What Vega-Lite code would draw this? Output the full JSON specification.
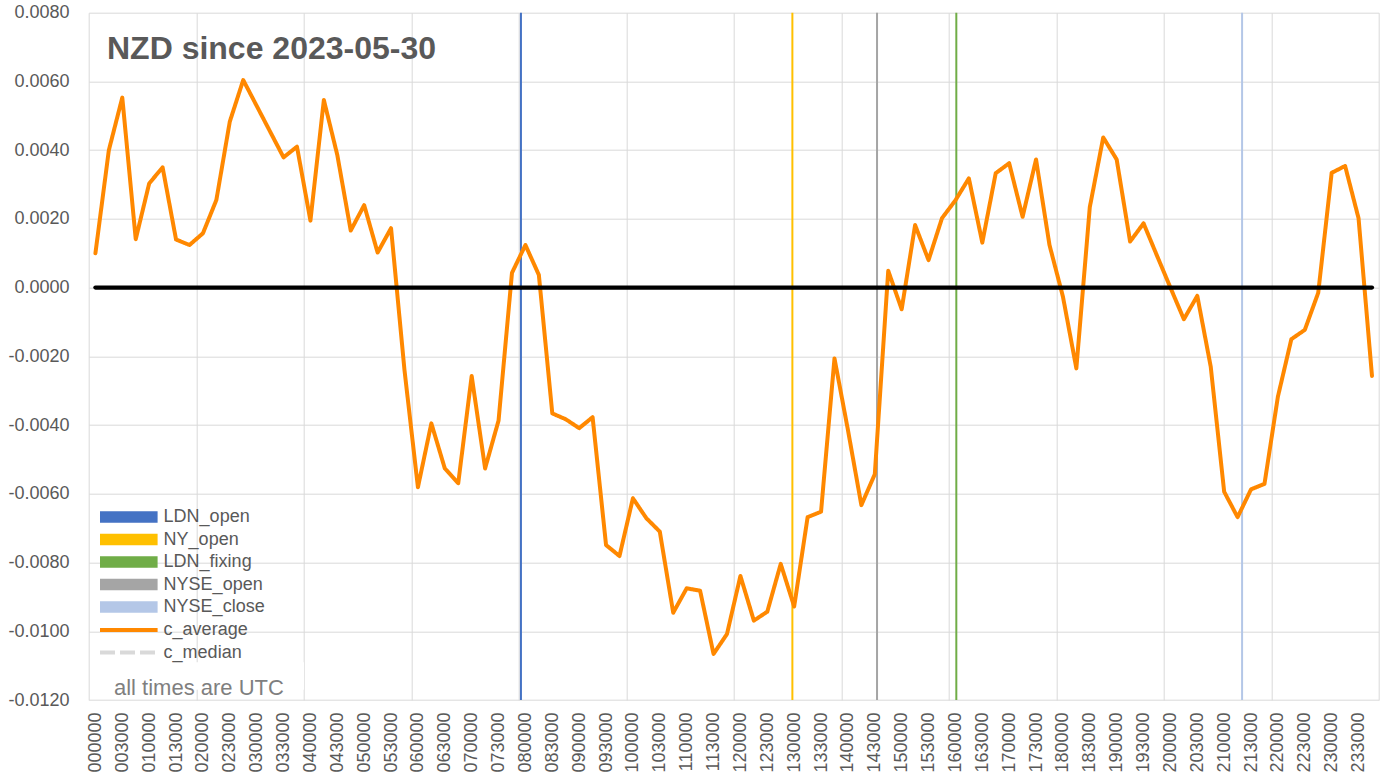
{
  "$schema": "https://vega.github.io/schema/vega-lite/v6.json",
  "width": 1290,
  "height": 687.3,
  "autosize": {"type": "none"},
  "padding": {"left": 88.7, "top": 12.7, "right": 21.3, "bottom": 81},
  "background": "white",
  "config": {"view": {"stroke": null}, "font": "Liberation Sans"},
  "datasets": {
    "avg": [
      {"minute": 0, "c_average": 0.0010},
      {"minute": 15, "c_average": 0.0040},
      {"minute": 30, "c_average": 0.00553},
      {"minute": 45, "c_average": 0.00141},
      {"minute": 60, "c_average": 0.00303},
      {"minute": 75, "c_average": 0.0035},
      {"minute": 90, "c_average": 0.0014},
      {"minute": 105, "c_average": 0.00124},
      {"minute": 120, "c_average": 0.00158},
      {"minute": 135, "c_average": 0.00255},
      {"minute": 150, "c_average": 0.00483},
      {"minute": 165, "c_average": 0.00604},
      {"minute": 180, "c_average": 0.00529},
      {"minute": 195, "c_average": 0.00454},
      {"minute": 210, "c_average": 0.00379},
      {"minute": 225, "c_average": 0.0041},
      {"minute": 240, "c_average": 0.00195},
      {"minute": 255, "c_average": 0.00546},
      {"minute": 270, "c_average": 0.00386},
      {"minute": 285, "c_average": 0.00166},
      {"minute": 300, "c_average": 0.0024},
      {"minute": 315, "c_average": 0.00102},
      {"minute": 330, "c_average": 0.00173},
      {"minute": 345, "c_average": -0.0024},
      {"minute": 360, "c_average": -0.00581},
      {"minute": 375, "c_average": -0.00395},
      {"minute": 390, "c_average": -0.00526},
      {"minute": 405, "c_average": -0.00569},
      {"minute": 420, "c_average": -0.00257},
      {"minute": 435, "c_average": -0.00526},
      {"minute": 450, "c_average": -0.00387},
      {"minute": 465, "c_average": 0.00043},
      {"minute": 480, "c_average": 0.00124},
      {"minute": 495, "c_average": 0.00037},
      {"minute": 510, "c_average": -0.00366},
      {"minute": 525, "c_average": -0.00383},
      {"minute": 540, "c_average": -0.00409},
      {"minute": 555, "c_average": -0.00377},
      {"minute": 570, "c_average": -0.00749},
      {"minute": 585, "c_average": -0.00781},
      {"minute": 600, "c_average": -0.00613},
      {"minute": 615, "c_average": -0.00671},
      {"minute": 630, "c_average": -0.0071},
      {"minute": 645, "c_average": -0.00946},
      {"minute": 660, "c_average": -0.00875},
      {"minute": 675, "c_average": -0.00882},
      {"minute": 690, "c_average": -0.01066},
      {"minute": 705, "c_average": -0.01008},
      {"minute": 720, "c_average": -0.00839},
      {"minute": 735, "c_average": -0.00969},
      {"minute": 750, "c_average": -0.00943},
      {"minute": 765, "c_average": -0.00804},
      {"minute": 780, "c_average": -0.00928},
      {"minute": 795, "c_average": -0.00668},
      {"minute": 810, "c_average": -0.00652},
      {"minute": 825, "c_average": -0.00206},
      {"minute": 840, "c_average": -0.00414},
      {"minute": 855, "c_average": -0.00633},
      {"minute": 870, "c_average": -0.00543},
      {"minute": 885, "c_average": 0.00049},
      {"minute": 900, "c_average": -0.00063},
      {"minute": 915, "c_average": 0.00182},
      {"minute": 930, "c_average": 0.0008},
      {"minute": 945, "c_average": 0.00202},
      {"minute": 960, "c_average": 0.00254},
      {"minute": 975, "c_average": 0.00318},
      {"minute": 990, "c_average": 0.00131},
      {"minute": 1005, "c_average": 0.00333},
      {"minute": 1020, "c_average": 0.00362},
      {"minute": 1035, "c_average": 0.00206},
      {"minute": 1050, "c_average": 0.00373},
      {"minute": 1065, "c_average": 0.00124},
      {"minute": 1080, "c_average": -0.00026},
      {"minute": 1095, "c_average": -0.00235},
      {"minute": 1110, "c_average": 0.00234},
      {"minute": 1125, "c_average": 0.00437},
      {"minute": 1140, "c_average": 0.00373},
      {"minute": 1155, "c_average": 0.00134},
      {"minute": 1170, "c_average": 0.00187},
      {"minute": 1185, "c_average": 0.00093},
      {"minute": 1200, "c_average": 0.0},
      {"minute": 1215, "c_average": -0.00092},
      {"minute": 1230, "c_average": -0.00024},
      {"minute": 1245, "c_average": -0.0023},
      {"minute": 1260, "c_average": -0.00594},
      {"minute": 1275, "c_average": -0.00668},
      {"minute": 1290, "c_average": -0.00587},
      {"minute": 1305, "c_average": -0.00571},
      {"minute": 1320, "c_average": -0.00317},
      {"minute": 1335, "c_average": -0.0015},
      {"minute": 1350, "c_average": -0.00123},
      {"minute": 1365, "c_average": -0.00015},
      {"minute": 1380, "c_average": 0.00334},
      {"minute": 1395, "c_average": 0.00354},
      {"minute": 1410, "c_average": 0.00202},
      {"minute": 1425, "c_average": -0.00257}
    ],
    "events": [
      {"name": "LDN_open", "minute": 475},
      {"name": "NY_open", "minute": 778},
      {"name": "LDN_fixing", "minute": 961},
      {"name": "NYSE_open", "minute": 872.5},
      {"name": "NYSE_close", "minute": 1280}
    ],
    "note": [{"text": "all times are UTC"}],
    "heading": [{"text": "NZD since 2023-05-30"}]
  },
  "layer": [
    {
      "data": {"name": "events"},
      "mark": {"type": "rule", "strokeWidth": 2},
      "encoding": {
        "x": {"field": "minute", "type": "quantitative",
          "scale": {"domain": [-7.5, 1432.5], "nice": false, "zero": false},
          "axis": {"orient": "top",
            "values": [-7.5, 112.5, 232.5, 352.5, 472.5, 592.5, 712.5, 832.5, 952.5, 1072.5, 1192.5, 1312.5, 1432.5],
            "labels": false, "grid": true, "gridColor": "#D9D9D9", "gridWidth": 1,
            "ticks": false, "domain": false, "title": null}},
        "stroke": {"field": "name", "type": "nominal",
          "scale": {"domain": ["LDN_open", "NY_open", "LDN_fixing", "NYSE_open", "NYSE_close"],
                    "range": ["#4472C4", "#FFC000", "#70AD47", "#A5A5A5", "#B4C7E7"]},
          "legend": {
            "orient": "none", "legendX": 31.1, "legendY": 495.3, "title": null, "padding": 0,
            "symbolType": "M-9.6,-1.6H9.6M-9.6,-1.07H9.6M-9.6,-0.53H9.6M-9.6,0H9.6M-9.6,0.53H9.6M-9.6,1.07H9.6M-9.6,1.6H9.6",
            "symbolSize": 36, "symbolStrokeWidth": 2,
            "labelFontSize": 18, "labelColor": "#595959", "labelFont": "Liberation Sans", "labelOffset": 25.8,
            "rowPadding": 4.5
          }}
      }
    },
    {
      "data": {"name": "avg"},
      "mark": {"type": "line", "strokeWidth": 4, "strokeJoin": "round", "strokeCap": "round"},
      "encoding": {
        "x": {"field": "minute", "type": "quantitative",
          "axis": {"orient": "bottom",
            "values": [0,30,60,90,120,150,180,210,240,270,300,330,360,390,420,450,480,510,540,570,600,630,660,690,720,750,780,810,840,870,900,930,960,990,1020,1050,1080,1110,1140,1170,1200,1230,1260,1290,1320,1350,1380,1410],
            "labelExpr": "(floor(datum.value/60) < 10 ? '0' : '') + floor(datum.value/60) + (datum.value % 60 < 10 ? '0' : '') + (datum.value % 60) + '00'",
            "labelAngle": -90, "labelFontSize": 18, "labelColor": "#595959", "labelFont": "Liberation Sans", "labelPadding": 12,
            "labelOverlap": false, "labelBound": false, "labelFlush": false,
            "grid": false, "ticks": false, "domain": false, "title": null}},
        "y": {"field": "c_average", "type": "quantitative",
          "scale": {"domain": [-0.012, 0.008], "nice": false, "zero": false},
          "axis": {"values": [-0.012, -0.01, -0.008, -0.006, -0.004, -0.002, 0, 0.002, 0.004, 0.006, 0.008],
            "labelExpr": "replace(format(datum.value, '.4f'), '\u2212', '-')",
            "labelFontSize": 18, "labelColor": "#595959", "labelFont": "Liberation Sans", "labelPadding": 19.7,
            "grid": true, "gridColor": "#D9D9D9", "gridWidth": 1, "ticks": false, "domain": false, "title": null}},
        "color": {"datum": "c_average", "type": "nominal",
          "scale": {"domain": ["c_average", "c_median"], "range": ["#FF8800", "#D9D9D9"]},
          "legend": {
            "orient": "none", "legendX": 31.1, "legendY": 608.3, "title": null, "padding": 0,
            "symbolType": "M-9.6,0H9.6", "symbolSize": 36, "symbolStrokeWidth": 4,
            "labelFontSize": 18, "labelColor": "#595959", "labelFont": "Liberation Sans", "labelOffset": 25.8,
            "rowPadding": 4.5
          }},
        "strokeDash": {"datum": "c_average", "type": "nominal",
          "scale": {"domain": ["c_average", "c_median"], "range": [[1, 0], [15, 5]]},
          "legend": {
            "orient": "none", "legendX": 31.1, "legendY": 608.3, "title": null, "padding": 0,
            "symbolType": "M-9.6,0H9.6", "symbolSize": 36, "symbolStrokeWidth": 4,
            "labelFontSize": 18, "labelColor": "#595959", "labelFont": "Liberation Sans", "labelOffset": 25.8,
            "rowPadding": 4.5
          }}
      }
    },
    {
      "data": {"values": [{}]},
      "mark": {"type": "rule", "color": "black", "strokeWidth": 4.3, "strokeCap": "round"},
      "encoding": {
        "x": {"datum": 0, "type": "quantitative", "axis": null},
        "x2": {"datum": 1425},
        "y": {"datum": 0, "type": "quantitative"}
      }
    },
    {
      "data": {"name": "note"},
      "mark": {"type": "rect", "color": "white"},
      "encoding": {
        "x": {"datum": -6, "type": "quantitative", "axis": null},
        "x2": {"datum": 232.8},
        "y": {"datum": -0.0109, "type": "quantitative"},
        "y2": {"datum": -0.0117}
      }
    },
    {
      "data": {"name": "note"},
      "mark": {"type": "text", "align": "left", "baseline": "alphabetic", "font": "Liberation Sans", "fontSize": 22, "color": "#7F7F7F"},
      "encoding": {
        "x": {"datum": 20.7, "type": "quantitative", "axis": null},
        "y": {"datum": -0.01185, "type": "quantitative"},
        "text": {"field": "text"}
      }
    },
    {
      "data": {"name": "heading"},
      "mark": {"type": "text", "align": "left", "baseline": "alphabetic", "font": "Liberation Sans", "fontSize": 32, "fontWeight": "bold", "color": "#595959"},
      "encoding": {
        "x": {"datum": 12.9, "type": "quantitative", "axis": null},
        "y": {"datum": 0.00665, "type": "quantitative"},
        "text": {"field": "text"}
      }
    }
  ],
  "resolve": {"axis": {"x": "independent"}}
}
